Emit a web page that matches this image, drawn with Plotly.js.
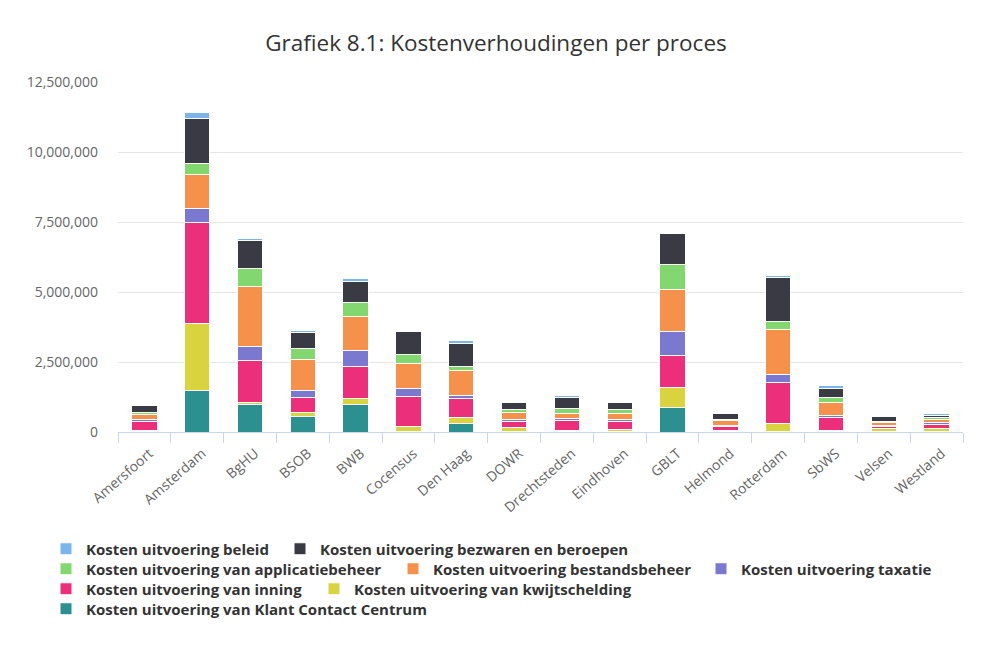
<!DOCTYPE html>
<html>
<head>
<meta charset="utf-8">
<script src="https://cdn.plot.ly/plotly-3.0.1.min.js"></script>
<style>
html,body{margin:0;padding:0;background:#fff;}
#chart{width:998px;height:650px;}
</style>
</head>
<body>
<div id="chart"></div>
<script>
var categories = ["Amersfoort","Amsterdam","BgHU","BSOB","BWB","Cocensus","Den Haag","DOWR","Drechtsteden","Eindhoven","GBLT","Helmond","Rotterdam","SbWS","Velsen","Westland"];

var klantContactCentrum = [20000,1470000,980000,560000,990000,20000,300000,10000,10000,20000,890000,20000,20000,20000,30000,30000];
var kwijtschelding      = [30000,2420000,90000,150000,200000,180000,210000,140000,50000,60000,710000,50000,280000,50000,100000,80000];
var inning              = [320000,3590000,1490000,540000,1150000,1070000,680000,240000,350000,310000,1130000,120000,1460000,450000,80000,160000];
var taxatie             = [60000,510000,480000,240000,570000,300000,120000,50000,80000,70000,860000,30000,300000,80000,40000,60000];
var bestandsbeheer      = [180000,1190000,2140000,1100000,1210000,870000,890000,250000,170000,190000,1490000,180000,1600000,450000,100000,120000];
var applicatiebeheer    = [100000,420000,660000,390000,490000,320000,140000,120000,180000,140000,890000,40000,300000,200000,40000,80000];
var bezwaren            = [220000,1580000,1010000,590000,770000,830000,810000,240000,380000,260000,1130000,210000,1570000,300000,150000,60000];
var beleid              = [70000,230000,60000,60000,120000,40000,120000,20000,100000,30000,20000,20000,50000,120000,20000,60000];

var seriesNames = [
  "Kosten uitvoering van Klant Contact Centrum",
  "Kosten uitvoering van kwijtschelding",
  "Kosten uitvoering van inning",
  "Kosten uitvoering taxatie",
  "Kosten uitvoering bestandsbeheer",
  "Kosten uitvoering van applicatiebeheer",
  "Kosten uitvoering bezwaren en beroepen",
  "Kosten uitvoering beleid"
];
var seriesValues = [klantContactCentrum, kwijtschelding, inning, taxatie, bestandsbeheer, applicatiebeheer, bezwaren, beleid];
var colors = ["#2b908f","#d9d33f","#ec2f7b","#7b78d0","#f5914a","#82d86f","#3a3a44","#7cb5ec"];

// legend placement (row/column layout of reference legend)
var legendIds = ["legend8","legend7","legend6","legend5","legend4","legend3","legend2","legend"];
var legendPos = [
  [46,609],[314,589],[46,589],[701,569],[393,569],[46,569],[280,549],[46,549]
];

var traces = seriesNames.map(function(name, i){
  return {
    type: "bar",
    name: name,
    x: categories,
    y: seriesValues[i],
    marker: {color: colors[i], line: {color: "#ffffff", width: 1}},
    legend: legendIds[i],
    hoverinfo: "x+y+name"
  };
});

var layout = {
  width: 998,
  height: 650,
  paper_bgcolor: "#ffffff",
  plot_bgcolor: "#ffffff",
  barmode: "stack",
  bargap: 0.52,
  margin: {l: 118, r: 35, t: 82, b: 218},
  font: {family: "Open Sans, sans-serif", color: "#666666", size: 12},
  title: {
    text: "Grafiek 8.1: Kostenverhoudingen per proces",
    font: {family: "Open Sans, sans-serif", size: 22.5, color: "#333333"},
    x: 0.497, xref: "container", xanchor: "center",
    y: 1 - 43/650, yref: "container", yanchor: "middle"
  },
  xaxis: {
    type: "category",
    tickangle: -41,
    tickson: "boundaries",
    ticks: "outside",
    ticklen: 10,
    tickcolor: "#ccd6eb",
    showline: true,
    linecolor: "#ccd6eb",
    linewidth: 1,
    showgrid: false,
    ticklabelstandoff: 7,
    ticklabelshift: 5,
    tickfont: {size: 14, color: "#666666"},
    fixedrange: true
  },
  yaxis: {
    range: [0, 12500000],
    dtick: 2500000,
    tick0: 0,
    tickformat: ",d",
    showgrid: true,
    gridcolor: "#e6e6e6",
    gridwidth: 1,
    zeroline: false,
    showline: false,
    ticklabelstandoff: 19,
    tickfont: {size: 14, color: "#666666"},
    fixedrange: true
  },
  showlegend: true
};

legendIds.forEach(function(id, i){
  layout[id] = {
    orientation: "h",
    xref: "container", yref: "container",
    x: legendPos[i][0]/998, xanchor: "left",
    y: 1 - legendPos[i][1]/650, yanchor: "middle",
    bgcolor: "rgba(0,0,0,0)",
    font: {family: "Open Sans, sans-serif", size: 15, color: "#333333", weight: 700}
  };
});

Plotly.newPlot("chart", traces, layout, {displayModeBar: false, responsive: false});
</script>
</body>
</html>
